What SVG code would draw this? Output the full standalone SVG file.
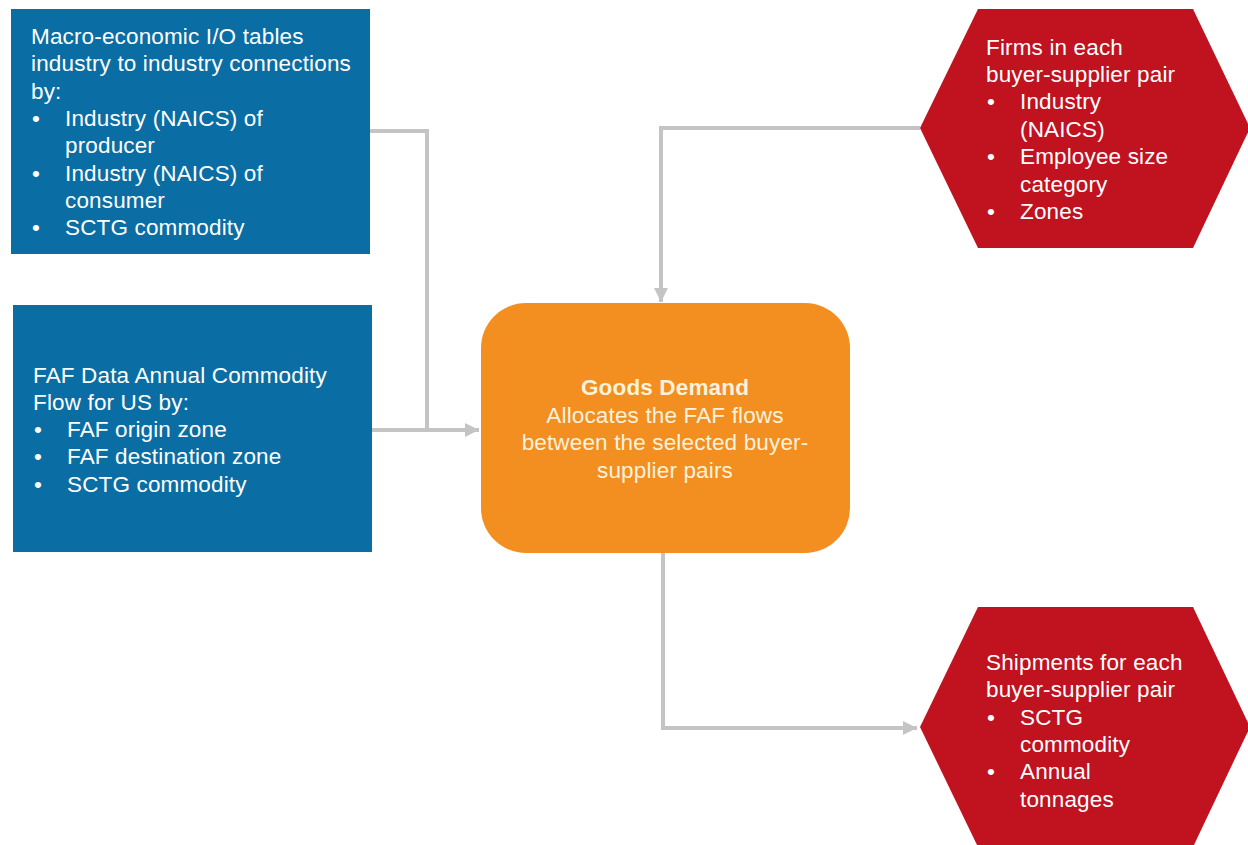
<svg xmlns="http://www.w3.org/2000/svg" width="1248" height="845" viewBox="0 0 1248 845">
<defs>
<marker id="arr" viewBox="0 0 10 10" refX="10" refY="5" markerWidth="3.6" markerHeight="3.6" orient="auto" markerUnits="strokeWidth">
<path d="M0,0 L10,5 L0,10 z" fill="#c4c4c4"/>
</marker>
</defs>
<style>
text{font-family:"Liberation Sans",Arial,sans-serif;font-size:22.5px;letter-spacing:0.15px;fill:#ffffff}
.blue{fill:#0a6da4}
.red{fill:#c0121f}
.orange{fill:#f38e21}
.conn{fill:none;stroke:#c4c4c4;stroke-width:4;stroke-linejoin:miter}
.og{fill:#fdf3dc}
.b{font-weight:bold}
</style>
<rect width="1248" height="845" fill="#ffffff"/>
<g id="connectors">
<polyline class="conn" points="370,131 427,131 427,430 460,430"/>
<polyline class="conn" points="372,430 479,430" marker-end="url(#arr)"/>
<polyline class="conn" points="920,128 661,128 661,302" marker-end="url(#arr)"/>
<polyline class="conn" points="663,553 663,728 917,728" marker-end="url(#arr)"/>
</g>
<g id="io-tables">
<rect class="blue" x="11" y="9" width="359" height="245"/>
<text x="31" y="44">Macro-economic I/O tables</text>
<text x="31" y="71.3">industry to industry connections</text>
<text x="31" y="98.6">by:</text>
<text x="32" y="125.9">•</text><text x="65" y="125.9">Industry (NAICS) of</text>
<text x="65" y="153.2">producer</text>
<text x="32" y="180.5">•</text><text x="65" y="180.5">Industry (NAICS) of</text>
<text x="65" y="207.8">consumer</text>
<text x="32" y="235.1">•</text><text x="65" y="235.1">SCTG commodity</text>
</g>
<g id="faf-data">
<rect class="blue" x="13" y="305" width="359" height="247"/>
<text x="33" y="382.5">FAF Data Annual Commodity</text>
<text x="33" y="409.8">Flow for US by:</text>
<text x="34" y="437.1">•</text><text x="67" y="437.1">FAF origin zone</text>
<text x="34" y="464.4">•</text><text x="67" y="464.4">FAF destination zone</text>
<text x="34" y="491.7">•</text><text x="67" y="491.7">SCTG commodity</text>
</g>
<g id="goods-demand">
<rect class="orange" x="481" y="303" width="369" height="250" rx="45" ry="45"/>
<text class="og b" x="665" y="395" text-anchor="middle">Goods Demand</text>
<text class="og" x="665" y="422.5" text-anchor="middle">Allocates the FAF flows</text>
<text class="og" x="665" y="450" text-anchor="middle">between the selected buyer-</text>
<text class="og" x="665" y="477.5" text-anchor="middle">supplier pairs</text>
</g>
<g id="firms">
<polygon class="red" points="920,128 978,9 1193,9 1250,128 1193,248 978,248"/>
<text x="986" y="55">Firms in each</text>
<text x="986" y="82">buyer-supplier pair</text>
<text x="987" y="109">•</text><text x="1020" y="109">Industry</text>
<text x="1020" y="136.5">(NAICS)</text>
<text x="987" y="164">•</text><text x="1020" y="164">Employee size</text>
<text x="1020" y="191.5">category</text>
<text x="987" y="219">•</text><text x="1020" y="219">Zones</text>
</g>
<g id="shipments">
<polygon class="red" points="920,727 978,607 1193,607 1250,727 1193,847 978,847"/>
<text x="986" y="670">Shipments for each</text>
<text x="986" y="697">buyer-supplier pair</text>
<text x="987" y="724.5">•</text><text x="1020" y="724.5">SCTG</text>
<text x="1020" y="752">commodity</text>
<text x="987" y="779">•</text><text x="1020" y="779">Annual</text>
<text x="1020" y="806.5">tonnages</text>
</g>
</svg>
